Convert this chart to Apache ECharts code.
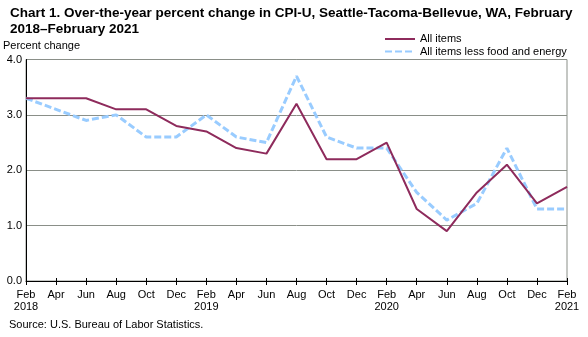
<!DOCTYPE html>
<html><head><meta charset="utf-8">
<script src="https://cdn.jsdelivr.net/npm/echarts@6/dist/echarts.min.js"></script>
<style>html,body{margin:0;padding:0;background:#fff}#c{width:588px;height:337px}</style>
</head><body><div id="c"></div>
<script>
var categories = ["Feb\n2018","Apr","Jun","Aug","Oct","Dec","Feb\n2019","Apr","Jun","Aug","Oct","Dec","Feb\n2020","Apr","Jun","Aug","Oct","Dec","Feb\n2021"];
var allItems = [3.3,3.3,3.3,3.1,3.1,2.8,2.7,2.4,2.3,3.2,2.2,2.2,2.5,1.3,0.9,1.6,2.1,1.4,1.7];
var coreItems = [3.3,3.1,2.9,3.0,2.6,2.6,3.0,2.6,2.5,3.7,2.6,2.4,2.4,1.6,1.1,1.4,2.4,1.3,1.3];
var yTicks = [0,1,2,3,4];

var chart = echarts.init(document.getElementById('c'), null, {renderer:'canvas'});
var F = 'Arial, "Liberation Sans", sans-serif';
chart.setOption({
  animation:false,
  textStyle:{fontFamily:F},
  title:[
    {text:'Chart 1. Over-the-year percent change in CPI-U, Seattle-Tacoma-Bellevue, WA, February\n2018\u2013February 2021',
     left:10, top:6, padding:0, textStyle:{fontSize:13.5, fontWeight:'bold', color:'#000', lineHeight:15.5, fontFamily:F}},
    {text:'Percent change', left:3, top:40, padding:0, textStyle:{fontSize:11, fontWeight:'normal', color:'#000', lineHeight:12, fontFamily:F}},
    {text:'Source: U.S. Bureau of Labor Statistics.', left:9, top:319, padding:0, textStyle:{fontSize:11, fontWeight:'normal', color:'#000', lineHeight:12, fontFamily:F}}
  ],
  legend:{
    orient:'vertical', left:384, top:33, padding:0, itemWidth:30, itemHeight:8, itemGap:0.5,
    itemStyle:{opacity:0},
    textStyle:{fontSize:11, color:'#000', fontFamily:F, lineHeight:12},
    data:['All items','All items less food and energy']
  },
  grid:{left:26, right:21, top:59.5, bottom:56, show:true, borderColor:'#8a8f88', borderWidth:1},
  xAxis:[{
    type:'category', data:categories, boundaryGap:false,
    axisLine:{lineStyle:{color:'#000', width:1}},
    axisTick:{show:true, length:4, lineStyle:{color:'#000'}, interval:0},
    axisLabel:{interval:0, color:'#000', fontSize:11, fontFamily:F, lineHeight:12, margin:8},
    splitLine:{show:false}
  },{
    type:'category', data:categories, boundaryGap:false, position:'bottom',
    axisLine:{show:false},
    axisTick:{show:true, inside:true, length:3, lineStyle:{color:'#000'}, interval:0},
    axisLabel:{show:false},
    splitLine:{show:false}
  }],
  yAxis:{
    type:'value', min:yTicks[0], max:yTicks[yTicks.length-1], interval:1,
    axisLine:{show:true, lineStyle:{color:'#000', width:1}},
    axisTick:{show:false},
    axisLabel:{color:'#000', fontSize:11, fontFamily:F, margin:4, formatter:function(v){return v.toFixed(1);}},
    splitLine:{show:true, lineStyle:{color:'#8a8f88', width:1}}
  },
  series:[
    {name:'All items', type:'line', data:allItems, symbol:'none',
     lineStyle:{color:'#8e2b5c', width:2}, itemStyle:{color:'#8e2b5c'}, z:3},
    {name:'All items less food and energy', type:'line', data:coreItems, symbol:'none',
     lineStyle:{color:'#99ccff', width:3, type:[7,3]}, itemStyle:{color:'#99ccff'}, z:2}
  ]
});
</script></body></html>
